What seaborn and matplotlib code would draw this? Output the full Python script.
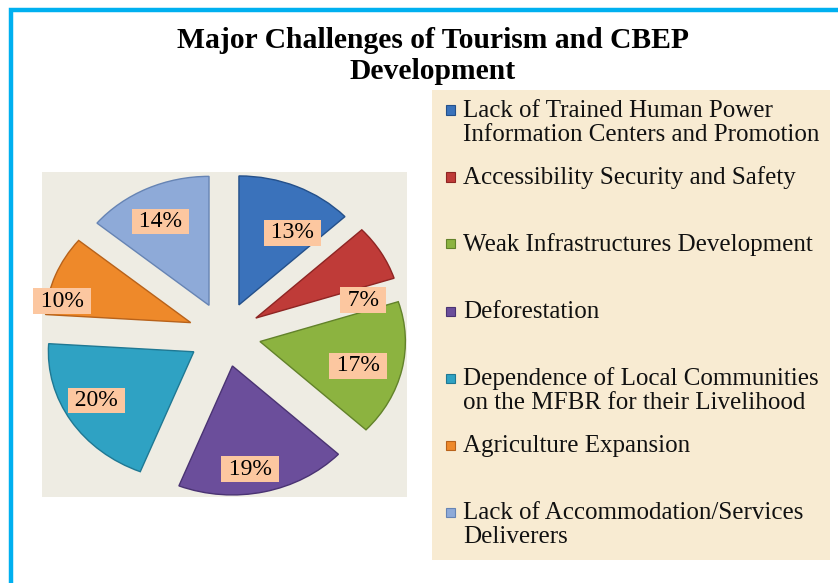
import numpy as np
import matplotlib
matplotlib.use("Agg")
import matplotlib.pyplot as plt
from matplotlib.patches import Rectangle
import seaborn as sns

# ---- data ----
categories = [
    "Lack of Trained Human Power\nInformation Centers and Promotion",
    "Accessibility Security and Safety",
    "Weak Infrastructures Development",
    "Deforestation",
    "Dependence of Local Communities\non the MFBR for their Livelihood",
    "Agriculture Expansion",
    "Lack of Accommodation/Services\nDeliverers",
]
values = [13, 7, 17, 19, 20, 10, 14]
title_lines = ["Major Challenges of Tourism and CBEP", "Development"]

# ---- style ----
colors = ["#3a72bb", "#bf3b38", "#8cb340", "#6b4e9b", "#2fa2c3", "#ee892a", "#8eaad8"]
edge_colors = ["#24508a", "#8e2523", "#62822a", "#4a3373", "#1f7893", "#b8621a", "#6684b4"]
label_r = [0.67, 0.75, 0.70, 0.81, 0.77, 0.90, 0.73]
label_dth = [-10, -20, -3, -4, -3, 11, 2]

sns.set_theme(style="white")
plt.rcParams["font.family"] = ["Liberation Serif", "DejaVu Serif"]

W, H = 838, 583
fig = plt.figure(figsize=(W / 100, H / 100), dpi=100)
fig.patch.set_facecolor("white")


def fbox(x0, y0, x1, y1):
    return [x0 / W, 1 - y1 / H, (x1 - x0) / W, (y1 - y0) / H]


# border (cyan), right/bottom run off the canvas
fig.add_artist(Rectangle((11 / W, -0.1), 1.2, 1 - 10 / H + 0.1, transform=fig.transFigure,
                         fill=False, edgecolor="#00b0f0", linewidth=3.2, zorder=-2))

# pie background
b = fbox(42, 172, 407, 497)
fig.add_artist(Rectangle((b[0], b[1]), b[2], b[3], transform=fig.transFigure,
                         facecolor="#eeece3", edgecolor="none", zorder=-2))
# legend background
lb = fbox(432, 90, 830, 560)
fig.add_artist(Rectangle((lb[0], lb[1]), lb[2], lb[3], transform=fig.transFigure,
                         facecolor="#f8ebd2", edgecolor="none", zorder=-2))

ax = fig.add_axes(fbox(42, 172, 407, 497))
ax.set_zorder(1)
pal = sns.color_palette(colors)
wedges, _ = ax.pie(values, colors=pal, startangle=90, counterclock=False,
                   explode=[0.25] * len(values),
                   wedgeprops=dict(linewidth=1.0))
for w, ec in zip(wedges, edge_colors):
    w.set_edgecolor(ec)
ax.set_aspect("auto")
ax.set_xlim(-1.255, 1.255)
ax.set_ylim(-1.26, 1.26)
ax.axis("off")

for w, v, r, dth in zip(wedges, values, label_r, label_dth):
    mid = np.deg2rad((w.theta1 + w.theta2) / 2 + dth)
    cx, cy = w.center
    ax.text(cx + r * np.cos(mid), cy + r * np.sin(mid), f"\u2009{v}%\u2009",
            ha="center", va="center", fontsize=17, color="black",
            bbox=dict(boxstyle="square,pad=0.1", facecolor="#fcc7a0", edgecolor="none"))

# title
for k, line in enumerate(title_lines):
    fig.text(433 / W, 1 - (48 + 31 * k) / H, line, ha="center", va="baseline",
             fontsize=21.3, fontweight="bold", color="black")

# legend entries
for i, (lab, c, ec) in enumerate(zip(categories, colors, edge_colors)):
    cy = 110 + 67 * i
    fig.add_artist(Rectangle((446 / W, 1 - (cy + 4.5) / H), 9 / W, 9 / H,
                             transform=fig.transFigure, facecolor=c, edgecolor=ec,
                             linewidth=0.8, zorder=3))
    for k, line in enumerate(lab.split("\n")):
        fig.text(463 / W, 1 - (cy + 7 + 24 * k) / H, line, ha="left", va="baseline",
                 fontsize=18, color="#111111")

fig.savefig("out.png", dpi=100)
